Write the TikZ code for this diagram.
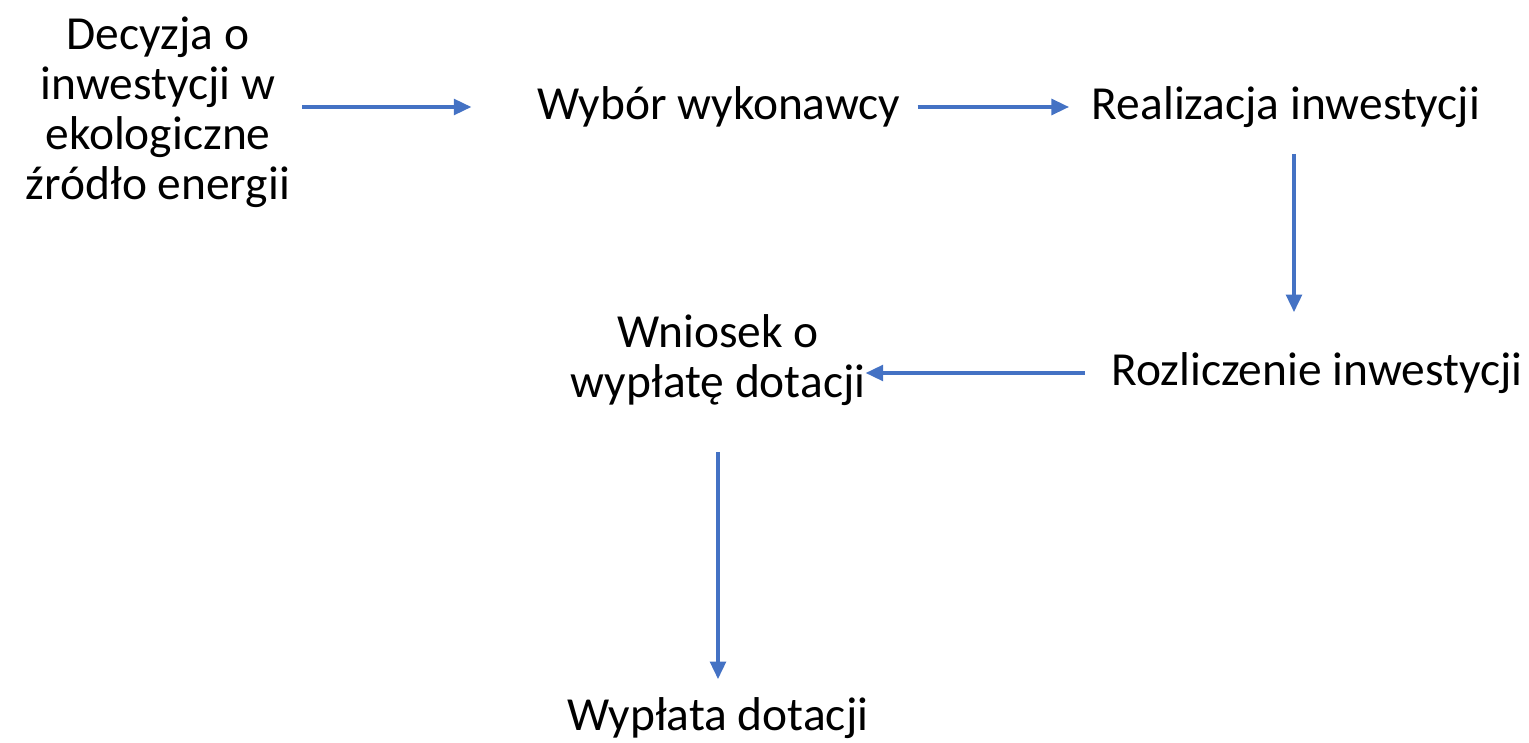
\documentclass[tikz,border=0pt]{standalone}
\usepackage{fontspec}
\setmainfont{Carlito}
\usetikzlibrary{arrows.meta}
\definecolor{flowblue}{HTML}{4472C4}
\tikzset{
  step text/.style={inner sep=0pt, align=center, font=\fontsize{27}{28.4}\selectfont},
  flow arrow/.style={draw=flowblue, line width=1.9pt, -{Triangle[length=10pt,width=9pt]}},
}

\begin{document}
\begin{tikzpicture}[x=0.02cm,y=-0.02cm]
\useasboundingbox (0,0) rectangle (1529,743);
% the nodes
\node [step text] (decyzja) at (158,112) {Decyzja o\\inwestycji w\\ekologiczne\\źródło energii};
\node [step text] (wybor) at (719,107) {Wybór wykonawcy};
\node [step text] (realizacja) at (1286,107) {Realizacja inwestycji};
\node [step text] (rozliczenie) at (1317,373) {Rozliczenie inwestycji};
\node [step text] (wniosek) at (718,360) {Wniosek o\\wypłatę dotacji};
\node [step text] (wyplata) at (718,718) {Wypłata dotacji};
%drawings of vectors
\draw[flow arrow, shorten <=0.24cm, shorten >=1.32cm] (decyzja.east |- wybor) -- (wybor.west);
\draw[flow arrow, shorten <=0.34cm, shorten >=0.45cm] (wybor.east) -- (realizacja.west);

\draw[flow arrow, shorten <=0.52cm, shorten >=0.8cm] (realizacja.south -| 1294,0) -- (rozliczenie.north -| 1294,0);

\draw[flow arrow, shorten <=0.53cm] (rozliczenie.west) -- (wniosek.east |- rozliczenie);
\draw[flow arrow, shorten <=0.92cm, shorten >=0.36cm] (wniosek.south) -- (wyplata.north);
\end{tikzpicture}
\end{document}
